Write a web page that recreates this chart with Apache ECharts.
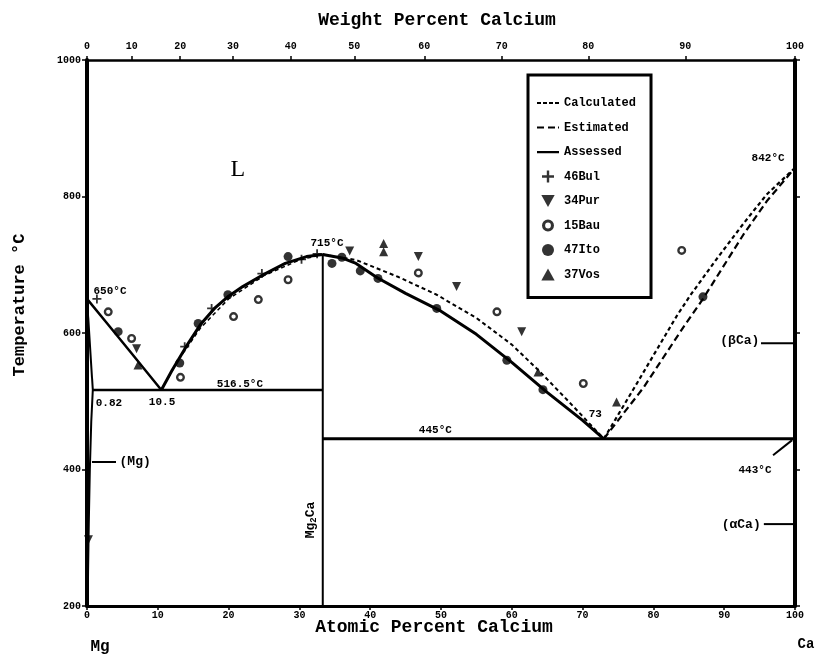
<!DOCTYPE html>
<html>
<head>
<meta charset="utf-8">
<script src="https://cdn.jsdelivr.net/npm/echarts@6/dist/echarts.min.js"></script>
<style>
  html, body { margin: 0; padding: 0; background: #fff; }
  #chart { width: 821px; height: 660px; }
</style>
</head>
<body>
<div id="chart"></div>
<script>
// Mg–Ca binary phase diagram (temperature vs. atomic percent calcium)

const atomicTicks = [0, 10, 20, 30, 40, 50, 60, 70, 80, 90, 100];
const weightTicks = [0, 10, 20, 30, 40, 50, 60, 70, 80, 90, 100];
const tempTicks = [200, 400, 600, 800, 1000];

// invariant points
const mgMelt = 650;          // °C
const caMelt = 842;          // °C
const eutectic1T = 516.5;    // °C
const eutectic1X = 10.5;     // at.% Ca
const mgSolubility = 0.82;   // at.% Ca
const compoundX = 33.3;      // Mg2Ca
const compoundMelt = 715;    // °C
const eutectic2T = 445;      // °C
const eutectic2X = 73;       // at.% Ca
const caTransition = 443;    // °C

// phase boundaries, [at.% Ca, °C]
const mgLiquidus = [[0, mgMelt], [3, 612], [6, 574], [eutectic1X, eutectic1T]];
const mgSolidus = [[0, mgMelt], [mgSolubility, eutectic1T]];
const mgSolvus = [[mgSolubility, eutectic1T], [0.6, 470], [0.4, 400], [0.25, 320], [0.15, 250], [0.1, 200]];
const eutectic1Line = [[mgSolubility, eutectic1T], [compoundX, eutectic1T]];
const eutectic2Line = [[compoundX, eutectic2T], [100, eutectic2T]];
const compoundLine = [[compoundX, 200], [compoundX, compoundMelt]];
const liqLeftAssessed = [[eutectic1X, eutectic1T], [12, 545], [14, 580], [16, 612], [18, 636], [20, 654], [22, 668], [25, 686], [28, 702], [31, 712], [compoundX, compoundMelt]];
const liqLeftCalc = [[eutectic1X, eutectic1T], [13, 562], [16, 607], [20, 650], [25, 684], [30, 707], [compoundX, compoundMelt]];
const liqRightAssessed = [[compoundX, compoundMelt], [36, 710], [38, 702], [41, 681], [45, 658], [50, 632], [55, 598], [60, 557], [65, 513], [70, 472], [eutectic2X, eutectic2T]];
const liqRightCalc = [[compoundX, compoundMelt], [38, 707], [44, 682], [49.4, 656], [55, 622], [60, 583], [64, 543], [68, 500], [eutectic2X, eutectic2T]];
const liqCaCalc = [[eutectic2X, eutectic2T], [77.6, 525], [83.3, 625], [85.2, 655], [88.9, 708], [92.7, 760], [96, 803], [100, caMelt]];
const liqCaEst = [[eutectic2X, eutectic2T], [78.6, 520], [84.2, 608], [87, 650], [92.7, 744], [96, 793], [100, caMelt]];

// experimental points, [at.% Ca, °C]
const bul46 = [[1.4, 650], [13.8, 580], [17.6, 636], [24.7, 687], [30.3, 708], [32.5, 716]];
const pur34 = [[7.0, 577], [37.1, 720], [46.8, 712], [52.2, 668], [61.4, 602], [0.2, 297]];
const bau15 = [[3.0, 631], [6.3, 592], [13.2, 535], [20.7, 624], [24.2, 649], [28.4, 678], [46.8, 688], [57.9, 631], [70.1, 526], [84.0, 721]];
const ito47 = [[4.4, 602], [13.1, 556], [15.7, 614], [19.9, 656], [28.4, 712], [34.6, 702], [36.0, 711], [38.6, 691], [41.1, 680], [49.4, 636], [59.3, 560], [64.4, 517], [87.0, 653]];
const vos37 = [[7.2, 553], [41.9, 719], [41.9, 731], [63.7, 543], [74.8, 499]];

// weight % -> atomic % Ca (for the top scale)
const M_MG = 24.305, M_CA = 40.078;
function wtToAt(w) {
  if (w <= 0) return 0;
  if (w >= 100) return 100;
  const a = w / M_CA, b = (100 - w) / M_MG;
  return 100 * a / (a + b);
}
const weightTickPos = weightTicks.map(wtToAt);

const MONO = '"Liberation Mono", "DejaVu Sans Mono", monospace';
const INK = '#000';

const plusIcon = 'path://M4,0H6V4H10V6H6V10H4V6H0V4H4Z';
const downTri = 'path://M0,0L10,0L5,9Z';
const upTri = 'path://M5,0L10,9L0,9Z';
const ringIcon = 'path://M5,0A5,5,0,1,1,4.99,0Z M5,2.6A2.4,2.4,0,1,0,5.01,2.6Z';

// legend swatches for line styles (tiny corner specks keep the box 22x10)
const frame = 'M0,0H0.01V0.01H0Z M0,9.99H0.01V10H0Z ';
const iconSolid = 'path://' + frame + 'M0,4H22V6.2H0Z';
const iconEst = 'path://' + frame + 'M0,4H7V6H0Z M11,4H18V6H11Z M21,4H22V6H21Z';
const iconCalc = 'path://' + frame + 'M0,4H4V6H0Z M6,4H10V6H6Z M12,4H16V6H12Z M18,4H22V6H18Z';

function lineSeries(name, data, type, width) {
  return {
    type: 'line', name, data, symbol: 'none', showSymbol: false,
    smooth: false, animation: false, silent: true, z: 3,
    itemStyle: { color: INK },
    lineStyle: { color: INK, width: width, type: type }
  };
}
function pointSeries(name, data, symbol, extra) {
  return Object.assign({
    type: 'scatter', name, data, symbol, symbolSize: 9,
    animation: false, z: 5,
    itemStyle: { color: INK, borderColor: INK, borderWidth: 0 }
  }, extra || {});
}

const calcDash = [4, 3];
const estDash = [7, 4];

const series = [
  lineSeries('Calculated', liqLeftCalc, calcDash, 1.5),
  lineSeries('Calculated', liqRightCalc, calcDash, 2),
  lineSeries('Calculated', liqCaCalc, calcDash, 2.2),
  lineSeries('Estimated', liqCaEst, estDash, 2.2),
  lineSeries('Assessed', mgLiquidus, 'solid', 2.5),
  lineSeries('Assessed', mgSolidus, 'solid', 2),
  lineSeries('Assessed', mgSolvus, 'solid', 2),
  lineSeries('Assessed', eutectic1Line, 'solid', 2.5),
  lineSeries('Assessed', eutectic2Line, 'solid', 3),
  lineSeries('Assessed', compoundLine, 'solid', 2),
  lineSeries('Assessed', liqLeftAssessed, 'solid', 3),
  lineSeries('Assessed', liqRightAssessed, 'solid', 3),
  pointSeries('46Bul', bul46, plusIcon),
  pointSeries('34Pur', pur34, downTri),
  pointSeries('15Bau', bau15, ringIcon, { symbolSize: 9 }),
  pointSeries('47Ito', ito47, 'circle'),
  pointSeries('37Vos', vos37, upTri)
];

const chart = echarts.init(document.getElementById('chart'), null, { renderer: 'canvas' });

const axisFont = { color: INK, fontFamily: MONO, fontWeight: 'bold', fontSize: 10 };

chart.setOption({
  backgroundColor: '#fff',
  color: [INK],
  animation: false,
  grid: { left: 87, right: 26, top: 60, bottom: 54 },
  legend: {
    orient: 'vertical',
    left: 528, top: 75,
    padding: [22, 15, 17, 9],
    itemGap: 12.5,
    itemWidth: 22, itemHeight: 12,
    borderColor: INK, borderWidth: 3, borderRadius: 0,
    backgroundColor: '#fff',
    selectedMode: false,
    textStyle: { color: INK, fontFamily: MONO, fontWeight: 'bold', fontSize: 12 },
    data: [
      { name: 'Calculated', icon: iconCalc, itemStyle: { color: INK } },
      { name: 'Estimated', icon: iconEst, itemStyle: { color: INK } },
      { name: 'Assessed', icon: iconSolid, itemStyle: { color: INK } },
      { name: '46Bul', icon: plusIcon },
      { name: '34Pur', icon: downTri },
      { name: '15Bau', icon: ringIcon },
      { name: '47Ito', icon: 'circle' },
      { name: '37Vos', icon: upTri }
    ]
  },
  xAxis: [
    {
      type: 'value', position: 'bottom', min: 0, max: 100, interval: 10,
      axisLine: { show: true, onZero: false, lineStyle: { color: INK, width: 3 } },
      axisTick: { show: true, length: 4, lineStyle: { color: INK, width: 1.5 } },
      axisLabel: Object.assign({ margin: 4, formatter: v => atomicTicks.includes(v) ? String(v) : '' }, axisFont),
      splitLine: { show: false }
    },
    {
      type: 'value', position: 'top', min: 0, max: 100,
      axisLine: { show: true, onZero: false, lineStyle: { color: INK, width: 2.5 } },
      axisTick: { show: true, length: 4, customValues: weightTickPos, lineStyle: { color: INK, width: 1.5 } },
      axisLabel: Object.assign({
        margin: 9,
        customValues: weightTickPos,
        formatter: function (v) {
          let best = 0, d = 1e9;
          weightTickPos.forEach((p, i) => { if (Math.abs(p - v) < d) { d = Math.abs(p - v); best = i; } });
          return String(weightTicks[best]);
        }
      }, axisFont),
      splitLine: { show: false }
    }
  ],
  yAxis: [
    {
      type: 'value', position: 'left', min: 200, max: 1000, interval: 200,
      axisLine: { show: true, onZero: false, lineStyle: { color: INK, width: 4 } },
      axisTick: { show: true, length: 5, lineStyle: { color: INK, width: 1.5 } },
      axisLabel: Object.assign({ margin: 6, formatter: v => tempTicks.includes(v) ? String(v) : '' }, axisFont),
      splitLine: { show: false }
    },
    {
      type: 'value', position: 'right', min: 200, max: 1000, interval: 200,
      axisLine: { show: true, onZero: false, lineStyle: { color: INK, width: 4 } },
      axisTick: { show: true, length: 5, lineStyle: { color: INK, width: 1.5 } },
      axisLabel: { show: false },
      splitLine: { show: false }
    }
  ],
  series: series
});

// annotations placed in data coordinates
const deg = '°C';
const notes = [
  { at: [3.25, 661], text: mgMelt + deg },
  { at: [3.1, 497], text: String(mgSolubility) },
  { at: [10.6, 499], text: String(eutectic1X) },
  { at: [21.6, 525], text: eutectic1T + deg },
  { at: [33.9, 732], text: compoundMelt + deg },
  { at: [49.2, 458], text: eutectic2T + deg },
  { at: [71.8, 481], text: String(eutectic2X) },
  { at: [96.2, 856], text: caMelt + deg },
  { at: [94.35, 399], text: caTransition + deg },
  { at: [6.8, 411], text: '(Mg)', size: 13 },
  { at: [92.2, 588], text: '(βCa)', size: 13 },
  { at: [92.4, 319], text: '(αCa)', size: 13 }
];
const leaders = [
  [[0.7, 411], [4.1, 411]],
  [[95.2, 585], [100, 585]],
  [[95.6, 320], [100, 320]],
  [[96.9, 421], [99.6, 443]]
];

function px(p) { return chart.convertToPixel({ gridIndex: 0 }, p); }

const graphics = [];
notes.forEach(n => {
  const p = px(n.at);
  graphics.push({
    type: 'text', x: p[0], y: p[1], z: 10,
    style: {
      text: n.text, fill: INK, align: 'center', verticalAlign: 'middle',
      font: 'bold ' + (n.size || 11) + 'px ' + MONO
    }
  });
});
leaders.forEach(seg => {
  const a = px(seg[0]), b = px(seg[1]);
  graphics.push({
    type: 'line', z: 10,
    shape: { x1: a[0], y1: a[1], x2: b[0], y2: b[1] },
    style: { stroke: INK, lineWidth: 2 }
  });
});
// liquid region label
const lp = px([21.3, 839]);
graphics.push({
  type: 'text', x: lp[0], y: lp[1], z: 10,
  style: { text: 'L', fill: INK, align: 'center', verticalAlign: 'middle', font: '24px "Liberation Serif", serif' }
});
// compound label along its line
const cp = px([31.6, 326]);
graphics.push({
  type: 'text', x: cp[0], y: cp[1], rotation: Math.PI / 2, z: 10,
  style: {
    text: '{a|Mg}{s|2}{a|Ca}', align: 'center', verticalAlign: 'middle',
    rich: {
      a: { fill: INK, font: 'bold 13px ' + MONO },
      s: { fill: INK, font: 'bold 9px ' + MONO, verticalAlign: 'bottom', padding: [6, 0, 0, 0] }
    }
  }
});
// axis titles and end-member names
const titleFont = 'bold 18px ' + MONO;
graphics.push(
  { type: 'text', x: 437, y: 20, style: { text: 'Weight Percent Calcium', fill: INK, align: 'center', verticalAlign: 'middle', font: titleFont } },
  { type: 'text', x: 434, y: 627, style: { text: 'Atomic Percent Calcium', fill: INK, align: 'center', verticalAlign: 'middle', font: titleFont } },
  { type: 'text', x: 20, y: 305, rotation: Math.PI / 2, style: { text: 'Temperature °C', fill: INK, align: 'center', verticalAlign: 'middle', font: 'bold 17px ' + MONO } },
  { type: 'text', x: 100, y: 647, style: { text: 'Mg', fill: INK, align: 'center', verticalAlign: 'middle', font: 'bold 16px ' + MONO } },
  { type: 'text', x: 806, y: 644, style: { text: 'Ca', fill: INK, align: 'center', verticalAlign: 'middle', font: 'bold 14px ' + MONO } }
);

chart.setOption({ graphic: graphics });
</script>
</body>
</html>
